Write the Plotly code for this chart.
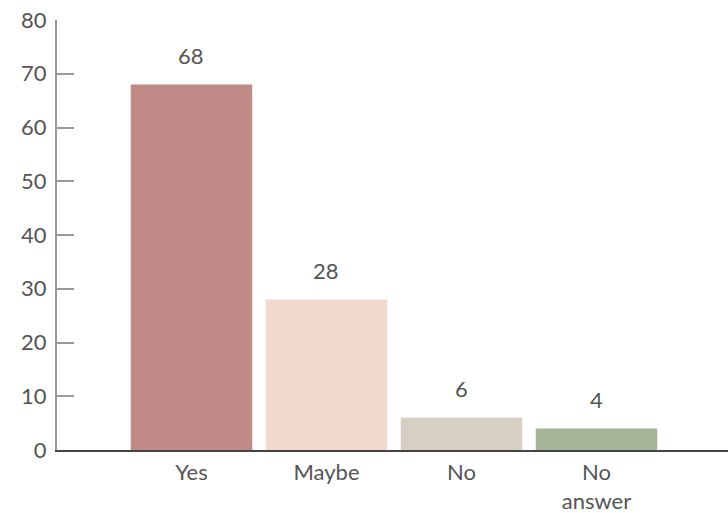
import plotly.graph_objects as go

categories = ["Yes", "Maybe", "No", "No<br>answer"]
values = [68, 28, 6, 4]
colors = ["#c08a86", "#f2d9cd", "#d6cfc4", "#a5b396"]
y_ticks = [0, 10, 20, 30, 40, 50, 60, 70, 80]

FONT = "Lato"
TXT = "#555555"
FS = 22

fig = go.Figure()
fig.add_trace(go.Bar(
    x=list(range(len(categories))),
    y=values,
    marker=dict(color=colors, line=dict(width=0)),
    width=0.9,
    hoverinfo="skip",
))

for i, v in enumerate(values):
    fig.add_annotation(x=i, y=v, text=str(v), showarrow=False,
                       yanchor="bottom", yshift=14,
                       font=dict(family=FONT, size=FS, color=TXT))

fig.update_layout(
    width=728, height=513,
    margin=dict(l=57, r=0, t=20, b=63),
    paper_bgcolor="white", plot_bgcolor="white",
    showlegend=False,
    font=dict(family=FONT, size=FS, color=TXT),
    xaxis=dict(
        range=[-0.996, 3.974],
        tickmode="array",
        tickvals=list(range(len(categories))),
        ticktext=categories,
        showgrid=False, zeroline=False,
        showline=True, linecolor="#444444", linewidth=1.5,
        ticks="", tickfont=dict(family=FONT, size=FS, color=TXT),
        ticklabelstandoff=2,
        automargin=False,
    ),
    yaxis=dict(
        range=[0, 80],
        tickmode="array",
        tickvals=y_ticks,
        showgrid=False, zeroline=False,
        showline=True, linecolor="#9a9a9a", linewidth=2,
        ticks="inside", ticklen=17, tickcolor="#9a9a9a", tickwidth=2,
        tickfont=dict(family=FONT, size=FS, color=TXT),
        ticklabelstandoff=4,
        automargin=False,
    ),
)

fig.write_html("out.html")
